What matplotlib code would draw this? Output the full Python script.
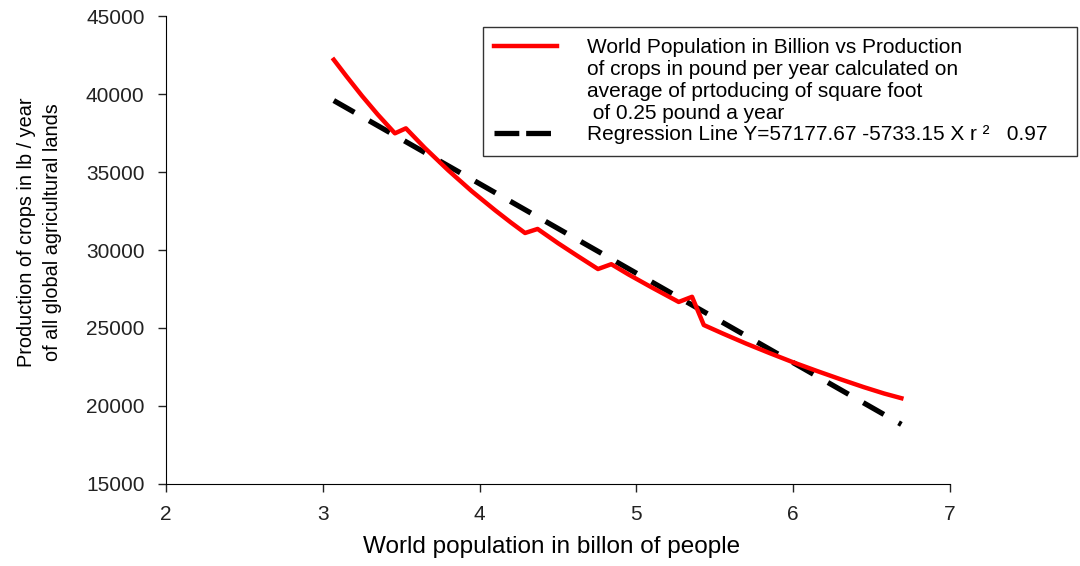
import matplotlib.pyplot as plt
from matplotlib.lines import Line2D

plt.rcParams['font.family'] = ['Liberation Sans', 'DejaVu Sans']

# world population (billion) vs crop production per person (lb/year)
pop = [3.07, 3.15, 3.25, 3.35, 3.46, 3.53, 3.65, 3.80, 3.95, 4.10, 4.20, 4.29,
       4.37, 4.50, 4.62, 4.755, 4.84, 4.95, 5.10, 5.27, 5.355, 5.43,
       5.55, 5.70, 5.85, 6.00, 6.15, 6.30, 6.45, 6.58, 6.69]
prod = [42200, 41150, 39880, 38690, 37480, 37800, 36550, 35110, 33770, 32540, 31760, 31090,
        31350, 30440, 29650, 28780, 29090, 28430, 27590, 26670, 27000, 25190,
        24650, 24000, 23390, 22800, 22250, 21720, 21210, 20800, 20500]

# regression line end points
reg_x = [3.07, 6.69]
reg_y = [39580, 18820]

red_label = ["World Population in Billion vs Production",
             "of crops in pound per year calculated on",
             "average of prtoducing of square foot",
             " of 0.25 pound a year"]
reg_label = "Regression Line Y=57177.67 -5733.15 X r \u00b2   0.97"

fig = plt.figure(figsize=(10.8, 5.66), dpi=100)
ax = fig.add_axes([0.1537, 0.1449, 0.7259, 0.8268])

ax.plot(pop, prod, color='#ff0000', lw=3.2, zorder=3)
ax.plot(reg_x, reg_y, color='black', lw=3.8, dashes=(4.5, 3.2), zorder=2)

ax.set_xlim(2, 7)
ax.set_ylim(15000, 45000)
ax.set_xticks([2, 3, 4, 5, 6, 7])
ax.set_yticks(range(15000, 45001, 5000))
for s in ['top', 'right']:
    ax.spines[s].set_visible(False)
ax.tick_params(labelsize=15, direction='out', length=6, width=1, colors='#222222')
ax.tick_params(axis='y', pad=9.4)
ax.tick_params(axis='x', pad=9)

ax.set_xlabel("World population in billon of people", fontsize=17.5)
ax.xaxis.set_label_coords(0.4917, -0.111)
ax.set_ylabel("Production of crops in lb / year\nof all global agricultural lands",
              fontsize=14.3, linespacing=1.45)
ax.yaxis.set_label_coords(-0.1327, 0.538)

handles = [Line2D([], [], color='#ff0000', lw=3.2)]
handles += [Line2D([], [], color='none') for _ in range(3)]
handles += [Line2D([], [], color='black', lw=3.8, dashes=(4.7, 1.3))]
labels = red_label + [reg_label]
leg = ax.legend(handles, labels, loc='upper left',
                bbox_to_anchor=(0.4043, 0.0, 0.7577, 0.9765), mode='expand',
                fontsize=15, labelspacing=0.13, handlelength=3.0, handletextpad=1.45,
                frameon=True, fancybox=False, edgecolor='black', borderpad=0.55,
                borderaxespad=0)
leg.get_frame().set_linewidth(1.0)

fig.savefig("out.png", dpi=100)
